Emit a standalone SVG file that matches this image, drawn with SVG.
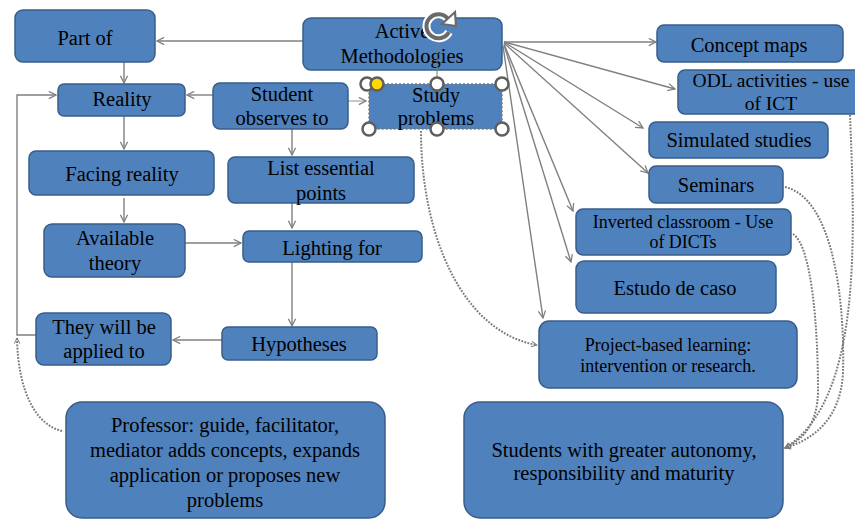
<svg xmlns="http://www.w3.org/2000/svg" width="855" height="520" viewBox="0 0 855 520">
<style>
.box{fill:#4f81bd;stroke:#385d8a;stroke-width:1.5}
.t{font-family:"Liberation Serif","Times New Roman",serif;font-size:20.5px;fill:#000;text-anchor:middle}
.s{font-size:18px}
.c{fill:none;stroke:#7f7f7f;stroke-width:1.4}
.lt{stroke:#b0b0b0}
.d{fill:none;stroke:#7a7a7a;stroke-width:2;stroke-dasharray:1.8 1.4}
.h{fill:#fff;stroke:#5f5f5f;stroke-width:2.5}
</style>
<defs>
<marker id="a" viewBox="0 0 10 10" refX="9" refY="5" markerWidth="9" markerHeight="9" markerUnits="userSpaceOnUse" orient="auto">
<path d="M1,1 L9,5 L1,9" fill="none" stroke="#7f7f7f" stroke-width="1.4"/>
</marker>
<marker id="ad" viewBox="0 0 10 10" refX="9" refY="5" markerWidth="7" markerHeight="7" markerUnits="userSpaceOnUse" orient="auto">
<path d="M1,1 L9,5 L1,9" fill="none" stroke="#7a7a7a" stroke-width="1.4"/>
</marker>
</defs>
<rect width="855" height="520" fill="#fff"/>
<g id="connectors">
<line class="c" x1="303" y1="41" x2="157" y2="41" marker-end="url(#a)"/>
<line class="c" x1="124" y1="62" x2="124" y2="83" marker-end="url(#a)"/>
<line class="c" x1="124" y1="116" x2="124" y2="149" marker-end="url(#a)"/>
<line class="c" x1="213" y1="95" x2="187" y2="95" marker-end="url(#a)"/>
<line class="c lt" x1="348" y1="101" x2="366" y2="101" marker-end="url(#a)"/>
<line class="c" x1="124" y1="198" x2="124" y2="222" marker-end="url(#a)"/>
<line class="c" x1="292" y1="129" x2="292" y2="155" marker-end="url(#a)"/>
<line class="c" x1="292" y1="203" x2="292" y2="228" marker-end="url(#a)"/>
<line class="c" x1="185" y1="243" x2="241" y2="243" marker-end="url(#a)"/>
<line class="c" x1="292" y1="262" x2="292" y2="326" marker-end="url(#a)"/>
<line class="c" x1="222" y1="340" x2="173" y2="340" marker-end="url(#a)"/>
<path class="c" d="M36,335 H17 V95 H56" marker-end="url(#a)"/>
<path class="d" d="M62,431 C36,425 18,392 17,338" marker-end="url(#ad)"/>
<path class="d" d="M421,131 C421,235 462,332 537,345" marker-end="url(#ad)"/>
<line class="c" x1="504" y1="42" x2="656" y2="42" marker-end="url(#a)"/>
<line class="c" x1="504" y1="42" x2="675" y2="89" marker-end="url(#a)"/>
<line class="c" x1="504" y1="42" x2="643" y2="128" marker-end="url(#a)"/>
<line class="c" x1="504" y1="43" x2="648" y2="173" marker-end="url(#a)"/>
<line class="c" x1="504" y1="44" x2="573" y2="211" marker-end="url(#a)"/>
<line class="c" x1="504" y1="45" x2="571" y2="262" marker-end="url(#a)"/>
<line class="c" x1="503" y1="46" x2="543" y2="318" marker-end="url(#a)"/>
<path class="d" d="M785,187 C833,198 845,300 843,372 C841,420 812,440 785,448" marker-end="url(#ad)"/>
<path class="d" d="M793,234 C812,246 818,330 818,390 C818,425 802,440 785,448" marker-end="url(#ad)"/>
<path class="d" d="M850,115 C855,240 862,400 785,448" marker-end="url(#ad)"/>
</g>
<g id="node-part-of"><rect class="box" x="15" y="10" width="140" height="52" rx="8"/><text class="t" x="85" y="45">Part of</text></g>
<g id="node-active"><rect class="box" x="303" y="18" width="199" height="52" rx="8"/><text class="t" x="402" y="38">Active</text><text class="t" x="402" y="63">Methodologies</text></g>
<g id="node-concept-maps"><rect class="box" x="657" y="25" width="186" height="37" rx="7"/><text class="t" x="749" y="52">Concept maps</text></g>
<g id="node-odl"><rect class="box" x="678" y="70" width="185" height="44" rx="7"/><text class="t" x="771" y="87" style="font-size:19.5px">ODL activities - use</text><text class="t" x="771" y="110" style="font-size:19.5px">of ICT</text></g>
<g id="node-simulated"><rect class="box" x="649" y="122" width="179" height="36" rx="7"/><text class="t" x="739" y="147">Simulated studies</text></g>
<g id="node-seminars"><rect class="box" x="649" y="166" width="134" height="37" rx="7"/><text class="t" x="716" y="192">Seminars</text></g>
<g id="node-inverted"><rect class="box" x="576" y="209" width="215" height="46" rx="7"/><text class="t s" x="683" y="228">Inverted classroom - Use</text><text class="t s" x="683" y="248">of DICTs</text></g>
<g id="node-estudo"><rect class="box" x="576" y="261" width="200" height="52" rx="8"/><text class="t" x="675" y="295">Estudo de caso</text></g>
<g id="node-project"><rect class="box" x="539" y="321" width="258" height="67" rx="10"/><text class="t s" x="668" y="351">Project-based learning:</text><text class="t s" x="668" y="372">intervention or research.</text></g>
<g id="node-students"><rect class="box" x="464" y="402" width="319" height="116" rx="16"/><text class="t" x="624" y="457">Students with greater autonomy,</text><text class="t" x="624" y="480">responsibility and maturity</text></g>
<g id="node-professor"><rect class="box" x="66" y="402" width="319" height="116" rx="16"/><text class="t" x="225" y="432">Professor: guide, facilitator,</text><text class="t" x="225" y="457">mediator adds concepts, expands</text><text class="t" x="225" y="482">application or proposes new</text><text class="t" x="225" y="507">problems</text></g>
<g id="node-reality"><rect class="box" x="58" y="84" width="127" height="32" rx="6"/><text class="t" x="122" y="106">Reality</text></g>
<g id="node-student-observes"><rect class="box" x="213" y="83" width="135" height="46" rx="7"/><text class="t" x="282" y="101">Student</text><text class="t" x="282" y="125">observes to</text></g>
<g id="node-study-problems"><rect class="box" x="369" y="84" width="133" height="45" rx="2" style="stroke:#7a7a7a;stroke-dasharray:2 2"/><text class="t" x="436" y="102">Study</text><text class="t" x="436" y="125">problems</text></g>
<g id="node-facing"><rect class="box" x="29" y="151" width="185" height="44" rx="7"/><text class="t" x="122" y="181">Facing reality</text></g>
<g id="node-list"><rect class="box" x="228" y="157" width="186" height="46" rx="7"/><text class="t" x="321" y="175">List essential</text><text class="t" x="321" y="200">points</text></g>
<g id="node-available"><rect class="box" x="44" y="224" width="141" height="53" rx="8"/><text class="t" x="115" y="245">Available</text><text class="t" x="115" y="270">theory</text></g>
<g id="node-lighting"><rect class="box" x="243" y="231" width="179" height="31" rx="6"/><text class="t" x="332" y="255">Lighting for</text></g>
<g id="node-applied"><rect class="box" x="36" y="313" width="135" height="52" rx="8"/><text class="t" x="104" y="334">They will be</text><text class="t" x="104" y="358">applied to</text></g>
<g id="node-hypotheses"><rect class="box" x="222" y="327" width="155" height="33" rx="6"/><text class="t" x="299" y="351">Hypotheses</text></g>
<g id="selection-handles">
<line x1="437" y1="40" x2="437" y2="84" stroke="#7a7a7a" stroke-width="1"/>
<path d="M448,19 A12,12 0 1 0 449,32" fill="none" stroke="#ffffff" stroke-width="8"/>
<path d="M448,19 A12,12 0 1 0 449,32" fill="none" stroke="#6a6a6a" stroke-width="4"/>
<path d="M442,24 L456,26 L455,12 Z" fill="#fff" stroke="#6a6a6a" stroke-width="2.2"/>
<circle class="h" cx="367" cy="84" r="6.5"/>
<circle cx="377" cy="84" r="6.5" fill="#ffd800" stroke="#5f5f5f" stroke-width="2.5"/>
<circle class="h" cx="437" cy="84" r="6.5"/>
<circle class="h" cx="502" cy="84" r="6.5"/>
<circle class="h" cx="369" cy="129" r="6.5"/>
<circle class="h" cx="437" cy="129" r="6.5"/>
<circle class="h" cx="502" cy="129" r="6.5"/>
</g>
</svg>
